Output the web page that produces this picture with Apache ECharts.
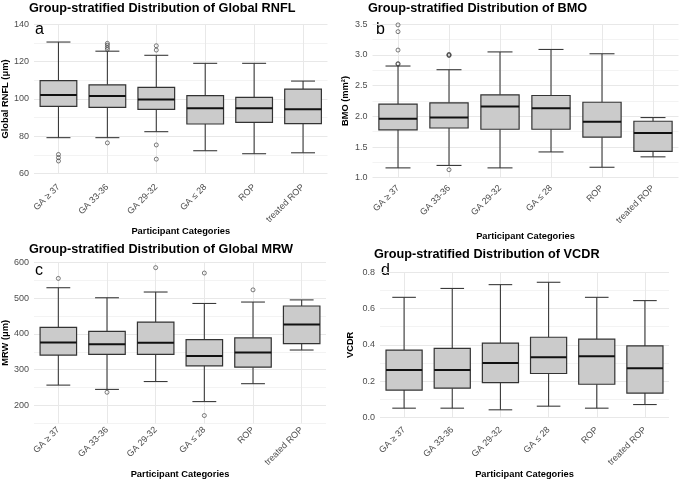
<!DOCTYPE html>
<html>
<head>
    <meta charset="utf-8">
    <title>Group-stratified distributions</title>
    <script src="https://cdn.jsdelivr.net/npm/echarts@6/dist/echarts.min.js"></script>
</head>
<body style="margin:0">
<div id="main" style="width: 683px;height:480px;"></div>
<script type="text/javascript">
    var myChart = echarts.init(document.getElementById('main'));

    var categories = ['GA ≥ 37', 'GA 33-36', 'GA 29-32', 'GA ≤ 28', 'ROP', 'treated ROP'];

    // [lower whisker, Q1, median, Q3, upper whisker]
    var rnflBox = [
        [79.3, 96.0, 102.2, 109.8, 130.5],
        [79.3, 95.5, 101.6, 107.6, 125.6],
        [82.5, 94.4, 99.7, 106.2, 123.4],
        [72.3, 86.6, 95.0, 101.8, 119.1],
        [70.7, 87.5, 95.0, 100.9, 119.1],
        [71.2, 86.8, 94.5, 105.3, 109.6]
    ];
    var rnflOut = [[0, 70.3], [0, 68.6], [0, 66.8], [1, 76.5], [1, 126.6], [1, 127.6], [1, 128.8], [1, 129.8],
        [2, 75.4], [2, 67.8], [2, 126.2], [2, 128.5]];

    var bmoBox = [
        [1.16, 1.78, 1.96, 2.20, 2.82],
        [1.20, 1.81, 1.98, 2.22, 2.76],
        [1.16, 1.79, 2.16, 2.35, 3.05],
        [1.42, 1.79, 2.13, 2.34, 3.09],
        [1.17, 1.66, 1.91, 2.23, 3.02],
        [1.34, 1.43, 1.73, 1.92, 1.98]
    ];
    var bmoOut = [[0, 3.49], [0, 3.38], [0, 3.08], [0, 2.86], [0, 2.85], [1, 3.01], [1, 3.00], [1, 2.99], [1, 1.13]];

    var mrwBox = [
        [257, 341, 376, 418, 529],
        [245, 343, 371, 407, 501],
        [267, 343, 375, 433, 517],
        [211, 311, 338, 384, 485],
        [261, 307, 348, 389, 489],
        [355, 373, 426, 478, 495]
    ];
    var mrwOut = [[0, 555], [1, 237], [2, 585], [3, 570], [3, 172], [4, 523]];

    var vcdrBox = [
        [0.051, 0.151, 0.262, 0.371, 0.662],
        [0.051, 0.161, 0.262, 0.381, 0.711],
        [0.042, 0.192, 0.300, 0.410, 0.732],
        [0.062, 0.242, 0.332, 0.442, 0.745],
        [0.051, 0.183, 0.337, 0.432, 0.662],
        [0.071, 0.134, 0.271, 0.394, 0.644]
    ];
    var vcdrOut = [];

    var titles = ['Group-stratified Distribution of Global RNFL', 'Group-stratified Distribution of BMO',
        'Group-stratified Distribution of Global MRW', 'Group-stratified Distribution of VCDR'];
    var yNames = ['Global RNFL (μm)', 'BMO (mm²)', 'MRW (μm)', 'VCDR'];
    var letters = ['a', 'b', 'c', 'd'];

    var font = '"Liberation Sans", Arial, sans-serif';
    var major = '#e8e8e8', minor = '#f3f3f3';

    // panel layout
    var panels = [
        {left: 33.5, top: 24.3, width: 294, height: 149.4, min: 60, max: 140, step: 10,
            major: function (v) { return v % 20 === 0; }, fmt: function (v) { return v; },
            colors: [major, minor], labelMargin: 12, nameGap: 50, yGap: 24,
            box: rnflBox, out: rnflOut, title: [29, 2], letter: [35, 22]},
        {left: 372.5, top: 24.3, width: 306, height: 153.4, min: 1, max: 3.5, step: 0.25,
            major: function (v) { return Math.abs(v * 2 - Math.round(v * 2)) < 1e-6; },
            fmt: function (v) { return v.toFixed(1); },
            colors: [major, minor], labelMargin: 9, nameGap: 54, yGap: 23,
            box: bmoBox, out: bmoOut, title: [368, 2], letter: [376, 22]},
        {left: 34, top: 262.3, width: 292, height: 161.3, min: 150, max: 600, step: 50,
            major: function (v) { return v % 100 === 0; }, fmt: function (v) { return v; },
            colors: [minor, major], labelMargin: 5, nameGap: 43, yGap: 24,
            box: mrwBox, out: mrwOut, title: [29, 243], letter: [35, 263]},
        {left: 380, top: 272.3, width: 289, height: 146, min: 0, max: 0.8, step: 0.1,
            major: function (v) { return Math.round(v * 10) % 2 === 0; },
            fmt: function (v) { return v.toFixed(1); },
            colors: [major, minor], labelMargin: 11, nameGap: 51, yGap: 25,
            box: vcdrBox, out: vcdrOut, title: [374, 248], letter: [381, 263]}
    ];

    function renderBox(params, api) {
        var i = api.value(0);
        var low = api.coord([i, api.value(1)]);
        var q1 = api.coord([i, api.value(2)]);
        var med = api.coord([i, api.value(3)]);
        var q3 = api.coord([i, api.value(4)]);
        var high = api.coord([i, api.value(5)]);
        var band = api.size([1, 0])[0];
        var bw = band * 0.75 / 2, cw = band * 0.49 / 2;
        var cx = med[0];
        var wStyle = {stroke: '#3a3a3a', lineWidth: 1.1};
        return {
            type: 'group',
            children: [
                {type: 'line', shape: {x1: cx, y1: high[1], x2: cx, y2: q3[1]}, style: wStyle},
                {type: 'line', shape: {x1: cx, y1: q1[1], x2: cx, y2: low[1]}, style: wStyle},
                {type: 'line', shape: {x1: cx - cw, y1: high[1], x2: cx + cw, y2: high[1]}, style: wStyle},
                {type: 'line', shape: {x1: cx - cw, y1: low[1], x2: cx + cw, y2: low[1]}, style: wStyle},
                {type: 'rect', shape: {x: cx - bw, y: q3[1], width: bw * 2, height: q1[1] - q3[1]},
                    style: {fill: '#cbcbcb', stroke: '#333333', lineWidth: 1.2}},
                {type: 'line', shape: {x1: cx - bw, y1: med[1], x2: cx + bw, y2: med[1]},
                    style: {stroke: '#111111', lineWidth: 2}}
            ]
        };
    }

    var grid = [], xAxis = [], yAxis = [], series = [], title = [], graphic = [];
    panels.forEach(function (p, k) {
        grid.push({left: p.left, top: p.top, width: p.width, height: p.height});
        xAxis.push({
            type: 'category', gridIndex: k, data: categories,
            name: 'Participant Categories', nameLocation: 'middle', nameGap: p.nameGap,
            nameTextStyle: {fontFamily: font, fontWeight: 'bold', fontSize: 9.3, color: '#000'},
            axisLine: {show: false}, axisTick: {show: false},
            axisLabel: {rotate: 45, interval: 0, margin: p.labelMargin, fontFamily: font, fontSize: 9, color: '#4d4d4d'},
            splitLine: {show: true, interval: 0, alignWithLabel: true, lineStyle: {color: major, width: 1}}
        });
        yAxis.push({
            type: 'value', gridIndex: k, min: p.min, max: p.max, interval: p.step,
            name: yNames[k], nameLocation: 'middle', nameGap: p.yGap,
            nameTextStyle: {fontFamily: font, fontWeight: 'bold', fontSize: 9.3, color: '#000'},
            axisLine: {show: false}, axisTick: {show: false},
            axisLabel: {
                margin: 5, fontFamily: font, fontSize: 9, color: '#4d4d4d',
                formatter: function (v) { return p.major(v) ? String(p.fmt(v)) : ''; }
            },
            splitLine: {show: true, lineStyle: {color: p.colors, width: 1}}
        });
        series.push({
            type: 'custom', xAxisIndex: k, yAxisIndex: k,
            renderItem: renderBox,
            encode: {x: 0, y: [1, 2, 3, 4, 5]},
            data: p.box.map(function (b, i) { return [i].concat(b); }),
            z: 2
        });
        series.push({
            type: 'scatter', xAxisIndex: k, yAxisIndex: k,
            symbol: 'circle', symbolSize: 4,
            itemStyle: {color: 'rgba(255,255,255,0)', borderColor: '#333333', borderWidth: 0.8},
            data: p.out, z: 3
        });
        title.push({
            text: titles[k], left: p.title[0], top: p.title[1], padding: 0,
            textStyle: {fontFamily: font, fontWeight: 'bold', fontSize: 12.7, color: '#000'}
        });
        graphic.push({
            type: 'text', left: p.letter[0], top: p.letter[1],
            style: {text: letters[k], fontFamily: font, fontSize: 16, fill: '#000'}
        });
    });

    var option = {
        backgroundColor: '#fff',
        animation: false,
        title: title,
        grid: grid,
        xAxis: xAxis,
        yAxis: yAxis,
        series: series,
        graphic: graphic
    };

    myChart.setOption(option);
</script>
</body>
</html>
